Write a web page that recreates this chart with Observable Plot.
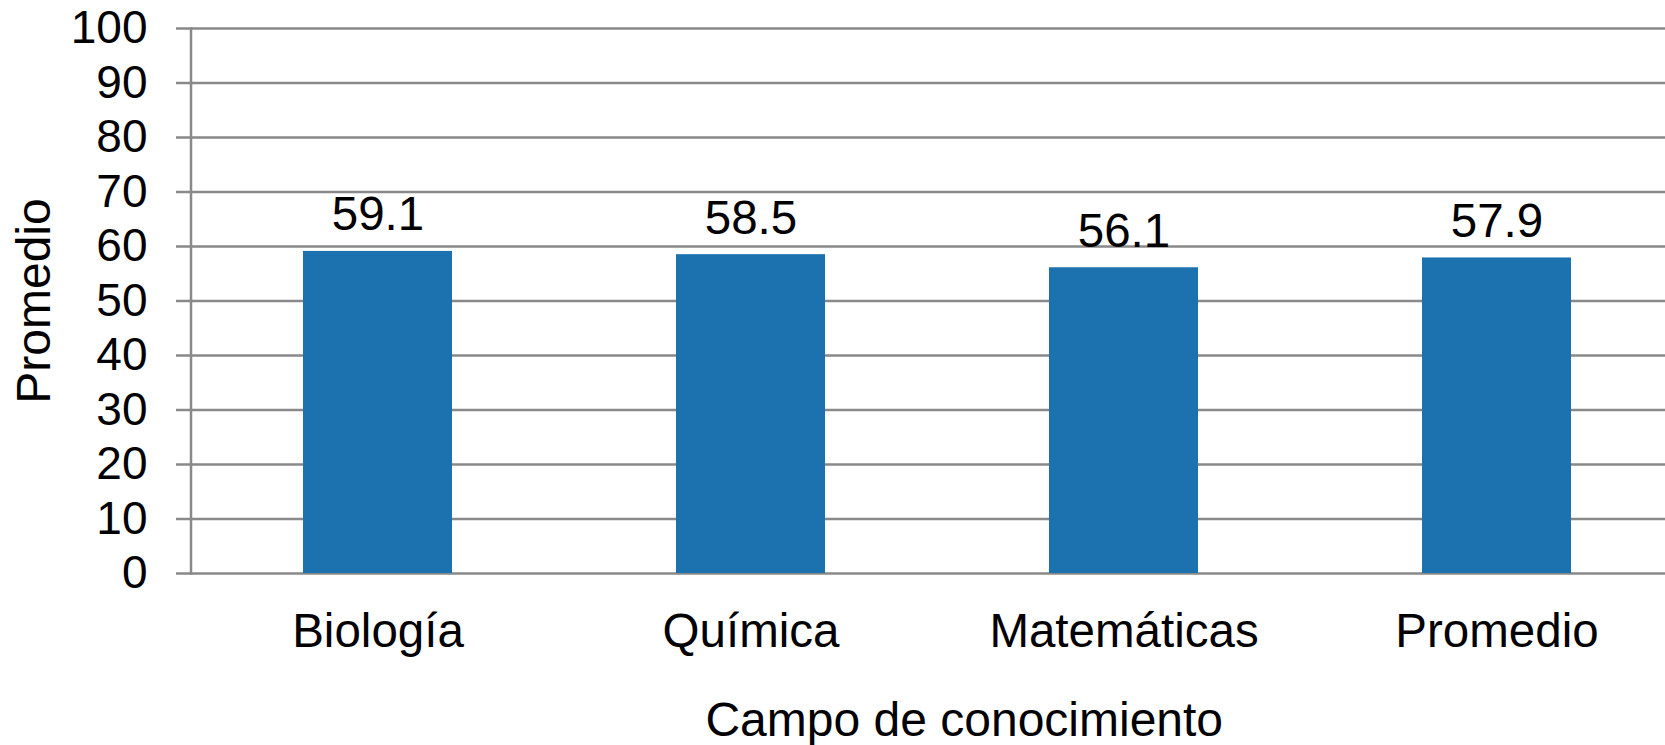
<!DOCTYPE html>
<html>
<head>
<meta charset="utf-8">
<script src="https://cdn.jsdelivr.net/npm/d3@7"></script>
<script src="https://cdn.jsdelivr.net/npm/@observablehq/plot@0.6"></script>
<style>
  html, body { margin: 0; padding: 0; background: #fff; }
  #chart svg { display: block; }
</style>
</head>
<body>
<div id="chart"></div>
<script>
const categorias = ["Biología", "Química", "Matemáticas", "Promedio"];
const valores = [59.1, 58.5, 56.1, 57.9];
const ticksY = [0, 10, 20, 30, 40, 50, 60, 70, 80, 90, 100];
const tituloX = "Campo de conocimiento";
const tituloY = "Promedio";

const datos = categorias.map((c, i) => ({campo: c, valor: valores[i]}));

const gris = "#898989";
const azul = "#1c72ae";
const fuente = "'Liberation Sans', Arial, Helvetica, sans-serif";

const chart = Plot.plot({
  width: 1665,
  height: 745,
  marginTop: 28,
  marginBottom: 172,
  marginLeft: 190.5,
  marginRight: 0,
  style: {fontFamily: fuente, background: "#fff", color: "#000", overflow: "visible"},
  x: {
    type: "band",
    domain: categorias,
    range: [190.5, 1683],
    paddingInner: 0.6,
    paddingOuter: 0.3,
    align: 0.5
  },
  y: {domain: [0, 100]},
  marks: [
    Plot.gridY(ticksY, {stroke: gris, strokeOpacity: 1, strokeWidth: 2.5}),
    Plot.frame({anchor: "left", stroke: gris, strokeWidth: 2.5}),
    Plot.axisY(ticksY, {
      tickSize: 14.5, tickPadding: 29, stroke: gris, strokeWidth: 2.5,
      fontSize: 46, fill: "#000", tickFormat: d => String(d),
      label: null
    }),
    Plot.axisY([], {
      tickSize: 0, fontSize: 48, fill: "#000",
      label: tituloY, labelAnchor: "center", labelOffset: 175, labelArrow: "none"
    }),
    Plot.axisX({
      tickSize: 0, tickPadding: 39.5, fontSize: 47.5, fill: "#000",
      label: null
    }),
    Plot.text([tituloX], {
      text: d => d, frameAnchor: "bottom", lineAnchor: "bottom",
      dx: 36, dy: 162, fontSize: 48, fill: "#000"
    }),
    Plot.barY(datos, {x: "campo", y: "valor", fill: azul}),
    Plot.text(datos, {
      x: "campo", y: "valor", text: d => d.valor.toFixed(1),
      lineAnchor: "bottom", dy: -21, fontSize: 47.5, fill: "#000"
    })
  ]
});

document.getElementById("chart").appendChild(chart);
</script>
</body>
</html>
